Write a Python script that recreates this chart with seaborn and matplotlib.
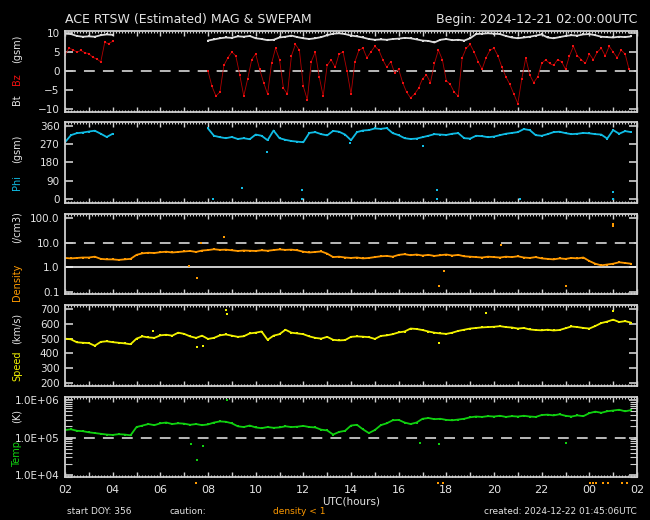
import numpy as np
import matplotlib
matplotlib.use("Agg")
import matplotlib.pyplot as plt
import matplotlib.ticker as mticker
import matplotlib.transforms as mtransforms
import seaborn as sns

# all times are hours after 2024-12-21 02:00 UTC
# MAG data: two stretches (gap 04-08 UTC), Bt/Phi every 15 min, Bz every 10 min
mag_start_a = 0.0
mag_start_b = 6.0

bt_a = [9.8, 9.7, 9.2, 9.0, 9.1, 9.0, 9.4, 9.6, 9.5]
bt_b = [8.0, 8.3, 8.6, 8.8, 8.7, 9.1, 9.0, 9.2, 8.6, 8.4, 8.1, 8.2,
        8.8, 9.0, 9.3, 8.9, 8.6, 8.4, 8.6, 8.9, 9.4, 9.8, 9.9, 9.7,
        9.3, 9.1, 8.8, 8.4, 8.2, 8.3, 8.2, 8.4, 8.5, 8.7, 8.6, 8.3,
        8.0, 7.9, 7.5, 8.2, 8.4, 8.1, 8.2, 8.0, 8.6, 9.7, 9.8, 9.9,
        9.8, 9.7, 9.2, 8.8, 8.6, 8.8, 9.0, 9.3, 9.6, 8.8, 8.6, 8.9,
        9.2, 9.4, 9.3, 9.6, 9.7, 9.4, 9.0, 8.9, 8.8, 9.0, 8.9, 9.1]

bz_a = [4.2, 6.0, 5.6, 5.0, 5.4, 4.8, 4.6, 3.6, 3.2, 2.4, 7.5, 7.2, 7.8]
bz_b = [0.0, -4.0, -6.5, -5.5, 1.5, 3.5, 5.0, 4.0, -1.0, -6.5, -2.0, 3.0,
        4.5, 0.5, -3.0, -6.0, 2.0, 6.0, 3.0, -4.5, -6.0, 4.0, 7.0, 5.5,
        -4.0, -7.5, 2.5, 5.0, -1.5, -6.5, 1.5, 3.0, 1.0, 4.5, 5.0, 0.0,
        -6.0, 2.5, 5.5, 6.0, 3.5, 5.0, 6.5, 5.5, 3.0, 1.0, 2.5, -0.5,
        0.5, -3.0, -5.5, -7.0, -6.0, -4.5, -2.0, -1.0, -3.0, 2.0, 5.5, 3.0,
        -2.5, -3.5, -5.5, -6.5, 3.5, 6.0, 7.0, 5.0, 2.5, 0.5, 3.5, 5.5,
        6.0, 4.0, 1.0, -1.5, -3.5, -6.0, -8.5, -2.0, 3.5, -1.0, -3.0, -1.5,
        2.0, 3.0, 2.0, 1.5, 3.0, 2.5, 0.5, 4.0, 6.5, 4.0, 3.0, 2.0,
        4.5, 3.0, 5.0, 6.0, 4.0, 6.5, 5.0, 3.5, 5.5, 4.5, 0.5]

phi_a = [280, 315, 325, 328, 333, 337, 322, 306, 322]
phi_b = [348, 312, 305, 300, 306, 296, 300, 295, 318, 312, 290, 338,
         300, 292, 286, 283, 280, 326, 330, 320, 314, 336, 332, 318,
         290, 330, 338, 340, 348, 346, 350, 325, 315, 300, 296, 298,
         305, 312, 320, 318, 316, 322, 325, 300, 298, 312, 310, 305,
         308, 315, 322, 326, 330, 345, 340, 315, 312, 320, 330, 332,
         325, 320, 322, 326, 324, 320, 318, 298, 340, 322, 335, 330]
phi_spike_t = [6.22, 7.41, 8.46, 9.93, 9.93, 11.96, 15.0, 15.6, 15.6, 19.1, 23.0, 23.0]
phi_spike_v = [2, 54, 233, 46, 0, 274, 260, 42, 0, 0, 36, 0]

# SWEPAM data every 15 min from 02:00
density = [2.4, 2.3, 2.4, 2.5, 2.5, 2.7, 2.2, 2.1, 2.1, 2.0, 2.1, 2.2,
           3.2, 3.7, 3.9, 3.8, 4.1, 4.3, 4.0, 4.2, 4.4, 4.6, 4.2, 4.8,
           5.0, 5.4, 5.1, 5.2, 4.9, 4.6, 4.8, 4.7, 4.6, 4.9, 4.7, 5.0,
           5.3, 5.1, 5.2, 4.9, 4.3, 4.0, 4.2, 4.4, 3.6, 2.6, 2.7, 2.5,
           2.4, 2.5, 2.3, 2.4, 2.6, 2.8, 2.9, 2.7, 3.2, 3.4, 3.1, 3.3,
           3.0, 3.2, 2.9, 3.1, 3.3, 3.0, 3.2, 2.8, 2.7, 2.6, 2.5, 2.7,
           2.6, 2.5, 2.7, 2.6, 2.8, 2.5, 2.4, 2.6, 2.3, 2.2, 2.1, 2.3,
           2.2, 2.4, 2.3, 2.5, 1.8, 1.4, 1.2, 1.3, 1.4, 1.6, 1.5, 1.4]
density_spike_t = [5.2, 5.55, 5.7, 6.69, 15.7, 15.9, 18.3, 21.0, 23.0, 23.0]
density_spike_v = [1.1, 0.37, 10.0, 16.5, 0.17, 0.7, 8.0, 0.17, 55, 48]
caution_t = [5.5, 15.67, 15.88, 22.03, 22.15, 22.28, 22.58, 22.8, 23.36, 23.57]

speed = [500, 495, 475, 472, 470, 452, 478, 482, 476, 472, 468, 462,
         500, 515, 508, 505, 522, 526, 520, 540, 532, 515, 505, 520,
         498, 505, 522, 528, 520, 512, 516, 535, 540, 548, 492, 520,
         530, 560, 540, 535, 530, 515, 505, 500, 512, 492, 488, 490,
         512, 515, 513, 510, 498, 518, 522, 530, 542, 548, 568, 565,
         558, 548, 540, 535, 532, 540, 552, 560, 568, 572, 576, 578,
         580, 584, 578, 575, 568, 572, 562, 558, 556, 560, 555, 558,
         570, 582, 578, 572, 568, 585, 605, 615, 628, 612, 618, 608]
speed_spike_t = [3.7, 5.55, 5.8, 6.75, 6.8, 15.7, 17.65, 23.0]
speed_spike_v = [552, 442, 450, 690, 668, 470, 670, 686]

temp_log10 = [5.20, 5.22, 5.18, 5.17, 5.14, 5.12, 5.10, 5.08, 5.07, 5.09, 5.08, 5.06,
              5.28, 5.32, 5.36, 5.33, 5.38, 5.40, 5.36, 5.38, 5.37, 5.34, 5.36, 5.33,
              5.35, 5.40, 5.43, 5.42, 5.38, 5.30, 5.28, 5.32, 5.27, 5.25, 5.28, 5.26,
              5.27, 5.30, 5.28, 5.29, 5.31, 5.28, 5.27, 5.21, 5.19, 5.08, 5.15, 5.18,
              5.32, 5.34, 5.22, 5.12, 5.20, 5.33, 5.38, 5.46, 5.47, 5.40, 5.36, 5.40,
              5.50, 5.52, 5.49, 5.50, 5.47, 5.46, 5.48, 5.50, 5.54, 5.56, 5.55, 5.57,
              5.56, 5.58, 5.55, 5.57, 5.56, 5.58, 5.56, 5.55, 5.60, 5.61, 5.59, 5.62,
              5.58, 5.56, 5.59, 5.57, 5.65, 5.69, 5.66, 5.70, 5.72, 5.74, 5.70, 5.73]
temp_spike_t = [5.3, 5.55, 5.8, 6.78, 14.9, 15.7, 21.0]
temp_spike_log10 = [4.82, 4.4, 4.77, 6.0, 4.85, 4.82, 4.85]

FG = "#e4e4e4"
FRAME = "#cfcfcf"
C_BT, C_BZ = "#dcdcdc", "#f01010"
C_PHI, C_DEN, C_SPD, C_TMP = "#10bce4", "#ff9a00", "#f2f200", "#10d010"

sns.set_theme(style="ticks", rc={
    "figure.facecolor": "black", "axes.facecolor": "black",
    "axes.edgecolor": FRAME, "text.color": FG,
    "xtick.color": FG, "ytick.color": FG,
})
plt.rcParams["font.family"] = ["DejaVu Sans"]

W, H = 650, 520
fig = plt.figure(figsize=(6.5, 5.2), dpi=100, facecolor="black")
boxes = [(31, 112), (122, 203), (214, 294), (305, 386), (397, 477)]
axes = []
for top, bot in boxes:
    ax = fig.add_axes([65 / W, 1 - bot / H, 572 / W, (bot - top) / H])
    ax.set_facecolor("black")
    for sp in ax.spines.values():
        sp.set_color(FRAME)
        sp.set_linewidth(1.3)
    axes.append(ax)


def times(start, values, step):
    return start + np.arange(len(values)) * step


def trace(ax, t, v, color, lw=1.3, ms=2.0, line_color=None):
    sns.lineplot(x=t, y=v, ax=ax, color=line_color or color, lw=lw, marker="s",
                 markersize=ms, markeredgewidth=0, markerfacecolor=color,
                 estimator=None, sort=False, legend=False)


def spikes(ax, t, v, color):
    sns.scatterplot(x=t, y=v, ax=ax, color=color, marker="s", s=2.5, linewidth=0,
                    legend=False)


def hline(ax, y, dashed=True):
    if dashed:
        ax.axhline(y, color="#c8c8c8", lw=1.3, dashes=(6, 4.5), zorder=1)
    else:
        ax.axhline(y, color="#f0f0f0", lw=1.2, zorder=1)


ax1, ax2, ax3, ax4, ax5 = axes

# Bt / Bz
hline(ax1, 0)
trace(ax1, times(mag_start_a, bz_a, 1 / 6), bz_a, C_BZ, lw=0.6, ms=2.0, line_color="#b00000")
trace(ax1, times(mag_start_b, bz_b, 1 / 6), bz_b, C_BZ, lw=0.6, ms=2.0, line_color="#b00000")
trace(ax1, times(mag_start_a, bt_a, 0.25), bt_a, C_BT)
trace(ax1, times(mag_start_b, bt_b, 0.25), bt_b, C_BT)
ax1.set_ylim(-10.7, 10.5)
ax1.set_yticks([-10, -5, 0, 5, 10])

# Phi
trace(ax2, times(mag_start_a, phi_a, 0.25), phi_a, C_PHI)
trace(ax2, times(mag_start_b, phi_b, 0.25), phi_b, C_PHI)
spikes(ax2, phi_spike_t, phi_spike_v, C_PHI)
ax2.set_ylim(-20, 380)
ax2.set_yticks([0, 90, 180, 270, 360])

# Density
ax3.set_yscale("log")
hline(ax3, 10)
hline(ax3, 1, dashed=False)
trace(ax3, times(0, density, 0.25), density, C_DEN)
spikes(ax3, density_spike_t, density_spike_v, C_DEN)
ax3.set_ylim(0.083, 145)
ax3.yaxis.set_major_locator(mticker.FixedLocator([0.1, 1, 10, 100]))
ax3.yaxis.set_major_formatter(mticker.FormatStrFormatter("%.1f"))
ax3.yaxis.set_minor_locator(mticker.LogLocator(base=10, subs=np.arange(2, 10)))
ax3.yaxis.set_minor_formatter(mticker.NullFormatter())

# Speed
trace(ax4, times(0, speed, 0.25), speed, C_SPD)
spikes(ax4, speed_spike_t, speed_spike_v, C_SPD)
ax4.set_ylim(180, 727)
ax4.set_yticks([200, 300, 400, 500, 600, 700])

# Temperature
ax5.set_yscale("log")
hline(ax5, 1e5)
trace(ax5, times(0, temp_log10, 0.25), 10 ** np.array(temp_log10), C_TMP)
spikes(ax5, temp_spike_t, 10 ** np.array(temp_spike_log10), C_TMP)
ax5.set_ylim(10 ** 3.95, 10 ** 6.08)
ax5.yaxis.set_major_locator(mticker.FixedLocator([1e4, 1e5, 1e6]))
ax5.yaxis.set_major_formatter(mticker.FuncFormatter(
    lambda v, p: "1.0E+%02d" % int(round(np.log10(v)))))
ax5.yaxis.set_minor_locator(mticker.LogLocator(base=10, subs=np.arange(2, 10)))
ax5.yaxis.set_minor_formatter(mticker.NullFormatter())

# density < 1 caution marks under the time axis
blend = mtransforms.blended_transform_factory(ax5.transData, ax5.transAxes)
ax5.scatter(caution_t, [-0.07] * len(caution_t), transform=blend, color=C_DEN,
            marker="s", s=1.5, linewidths=0, clip_on=False)

for i, ax in enumerate(axes):
    ax.set_xlim(0, 24)
    ax.set_xlabel("")
    ax.set_ylabel("")
    ax.xaxis.set_major_locator(mticker.MultipleLocator(1))
    ax.xaxis.set_minor_locator(mticker.MultipleLocator(0.125))
    ax.xaxis.set_major_formatter(mticker.FuncFormatter(
        lambda v, p: "%02d" % ((int(round(v)) + 2) % 24) if int(round(v)) % 2 == 0 else ""))
    ax.tick_params(axis="x", which="major", direction="in", length=3.5, width=1.0,
                   top=True, bottom=True, color=FRAME, labelsize=8, labelcolor=FG, pad=6,
                   labelbottom=(i == 4))
    ax.tick_params(axis="x", which="minor", direction="in", length=1.6, width=0.8,
                   top=True, bottom=True, color=FRAME)
    ax.tick_params(axis="y", which="major", direction="in", length=5.8, width=1.2,
                   left=True, right=True, color=FRAME, labelsize=7.5, labelcolor=FG, pad=4)
    ax.tick_params(axis="y", which="minor", direction="in", length=5.0, width=0.8,
                   left=True, right=True, color=FRAME)

# side labels built from coloured pieces, stacked bottom to top
renderer = fig.canvas.get_renderer()


def side_label(parts, center_px, gap):
    items = []
    for s, c in parts:
        t = fig.text(17 / W, 0, s, color=c, rotation=90, fontsize=7,
                     ha="center", va="bottom")
        items.append((t, t.get_window_extent(renderer).height))
    total = sum(h for _, h in items) + gap * (len(items) - 1)
    y = (H - center_px) - total / 2
    for t, h in items:
        t.set_position((17 / W, y / H))
        y += h + gap


side_label([("Bt", FG), ("Bz", C_BZ), ("(gsm)", FG)], 70, 10)
side_label([("Phi", C_PHI), ("(gsm)", FG)], 162, 12)
side_label([("Density", C_DEN), ("(/cm3)", FG)], 256, 20)
side_label([("Speed", C_SPD), ("(km/s)", FG)], 347, 7)
side_label([("Temp", C_TMP), ("(K)", FG)], 438, 18)

fig.text(65 / W, 1 - 20 / H, "ACE RTSW (Estimated) MAG & SWEPAM", fontsize=9,
         color=FG, ha="left", va="center")
fig.text(637 / W, 1 - 20 / H, "Begin: 2024-12-21 02:00:00UTC", fontsize=9,
         color=FG, ha="right", va="center")
fig.text(351 / W, 1 - 502 / H, "UTC(hours)", fontsize=7.5, color=FG,
         ha="center", va="center")
fig.text(67 / W, 1 - 512 / H, "start DOY: 356", fontsize=6.5, color=FG,
         ha="left", va="center")
fig.text(170 / W, 1 - 512 / H, "caution:", fontsize=6.5, color=FG,
         ha="left", va="center")
fig.text(273 / W, 1 - 512 / H, "density < 1", fontsize=6.5, color=C_DEN,
         ha="left", va="center")
fig.text(637 / W, 1 - 512 / H, "created: 2024-12-22 01:45:06UTC", fontsize=6.5,
         color=FG, ha="right", va="center")

fig.savefig("out.png", dpi=100, facecolor="black")
